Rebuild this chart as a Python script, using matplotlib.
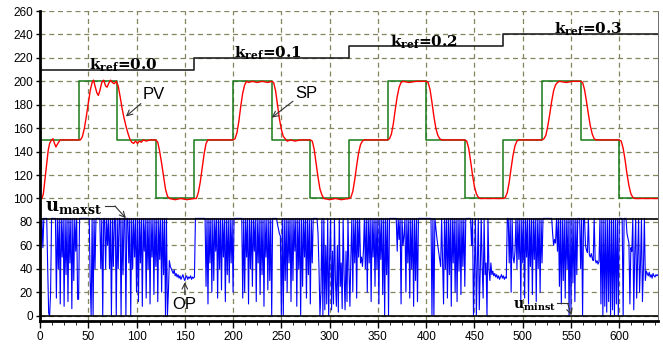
import matplotlib

matplotlib.use("Agg")

import matplotlib.pyplot as plt
import numpy as np

plt.rcParams["font.family"] = ["Liberation Sans", "DejaVu Sans"]
plt.rcParams["mathtext.fontset"] = "dejavuserif"

# set point: square wave 150 / 200 / 150 / 100, period 160
sp_t = [0, 1, 40, 80, 120, 160, 200, 240, 280, 320, 360, 400, 440, 480, 520, 560, 600, 640]
sp_v = [125, 150, 200, 150, 100, 150, 200, 150, 100, 150, 200, 150, 100, 150, 200, 150, 100, 100]

# k_ref reference level line
kref_t = [0, 160, 320, 480, 640]
kref_v = [210, 220, 230, 240, 240]
kref_labels = ["0.0", "0.1", "0.2", "0.3"]
kref_label_x = [51, 201, 363, 532]
kref_label_y = [214, 224, 233, 244]

# process value
pv_t = [0, 2, 3.5, 5, 7, 8.5, 10, 12, 13.5, 15, 16.5, 18.5, 21, 40,
        42, 44, 46, 48, 50, 52, 54, 55.5, 57, 59, 60.5, 62, 64, 66, 68, 69.5, 71, 73, 75, 77, 79,
        81, 83, 85, 87, 89, 91, 93, 95, 97, 99, 101, 103, 105, 107, 110, 114, 120,
        122, 124, 126, 128, 130, 132, 134, 140, 146, 152, 160,
        162, 164, 166, 168, 170, 172, 174, 200,
        202, 204, 206, 208, 210, 212, 214, 216, 220, 225, 230, 236, 240,
        242, 244, 246, 248, 250, 252, 254, 256, 260, 264, 270, 280,
        282, 284, 286, 288, 290, 292, 294, 300, 306, 312, 320,
        322, 324, 326, 328, 330, 332, 334, 336, 360,
        362, 364, 366, 368, 370, 372, 374, 376, 382, 390, 400,
        402, 404, 406, 408, 410, 412, 414, 416, 425, 440,
        442, 444, 446, 448, 450, 452, 454, 456, 468, 480,
        482, 484, 486, 488, 490, 492, 494, 496, 520,
        522, 524, 526, 528, 530, 532, 534, 536, 538, 545, 552, 560,
        562, 564, 566, 568, 570, 572, 574, 576, 590, 600,
        602, 604, 606, 608, 610, 612, 614, 616, 628, 640]
pv_v = [100, 100, 104, 115, 130, 141, 147, 150, 151, 147, 144, 147, 150, 150,
        150, 153, 160, 170, 181, 192, 199, 201, 196, 190, 188, 192, 199, 201, 196, 195, 198, 201, 199, 198, 200,
        196, 187, 177, 169, 162, 156, 151, 148, 147, 149, 147, 149, 148, 150, 149, 150, 150,
        148, 140, 130, 119, 108, 102, 100, 99, 100, 99, 100,
        100, 105, 114, 126, 138, 147, 150, 150,
        151, 156, 166, 179, 190, 197, 200, 199, 200, 199, 200, 199, 200,
        199, 192, 180, 168, 159, 153, 151, 149, 150, 149, 150, 150,
        149, 142, 130, 118, 108, 103, 100, 99, 100, 99, 100,
        101, 106, 116, 128, 139, 146, 149, 150, 150,
        151, 155, 164, 176, 187, 195, 199, 200, 199, 200, 200,
        199, 193, 182, 170, 160, 154, 151, 150, 150, 150,
        149, 143, 132, 120, 110, 104, 101, 100, 100, 100,
        101, 105, 114, 126, 137, 145, 149, 150, 150,
        151, 154, 162, 172, 183, 192, 197, 199, 200, 199, 200, 200,
        199, 193, 183, 172, 162, 155, 151, 150, 150, 150,
        149, 143, 133, 121, 111, 104, 101, 100, 100, 100]

# controller output, one sample per time unit
op_v = [83, 60, 83, 58, 83, 83, 83, 83,
        40, 2, 0, 20,
        83, 83, 83, 83,
        83, 15, 83, 40, 83, 10, 83, 50, 83, 8, 83, 35, 83, 12, 83, 45, 83, 6, 83, 30, 83, 55, 83, 14,
        14, 83, 83, 83, 83, 83, 83, 83, 83, 83, 83,
        83, 30, 0, 83, 0, 83, 40,
        83, 83, 83, 83, 83,
        40, 83, 0, 83, 83, 40, 83, 60,
        83, 40, 83, 0, 83, 42, 83, 83, 0,
        83, 40, 83, 83, 0, 83, 35, 83, 83, 0, 83, 83, 45, 83, 0, 83,
        40, 83, 50, 83, 20,
        83, 12, 83, 45, 83, 8, 83, 55, 83, 15, 83, 40, 83, 10, 83, 50, 83, 18, 83, 42, 83, 12, 83, 48,
        83, 20, 83, 35, 83, 0, 83,
        0, 20, 47, 42, 40,
        38, 36, 39, 34, 36, 33, 35, 32, 34, 31, 33, 35, 32, 30, 33, 34, 31, 33, 32, 34, 31, 33, 32,
        33, 83, 83, 83, 83, 83, 83, 83, 83, 83, 83,
        83, 25, 83, 10, 83, 45, 83, 20, 83, 30, 83, 55, 83, 15, 83, 40, 83, 22, 83, 50, 83, 12, 83, 35,
        83, 28, 83, 45, 83, 20,
        83, 83, 83, 83, 83, 83, 83, 83, 83,
        15,
        83, 20, 83, 50, 83, 10, 83, 40, 83, 25, 83, 55, 83, 12, 83, 45, 83, 18, 83, 35, 83, 8, 83, 50,
        83, 22, 83, 30, 83, 0, 83,
        83, 83, 83, 83,
        78, 74, 70, 68,
        0, 83, 0, 83, 30,
        83, 20, 83, 45, 83, 12, 83, 30, 83, 55, 83, 8, 83, 40, 83, 0, 83, 25, 83, 50, 83, 15, 83, 35,
        83, 10, 83, 45,
        83, 83, 83, 83, 83,
        70, 40, 0, 20,
        83, 0, 83, 5, 60, 10, 83, 0, 50,
        83, 5, 55, 10, 83, 30, 8, 60, 3, 83, 25, 45, 6, 83, 35, 5, 55, 12, 83, 40, 8, 50, 83,
        20, 83, 45, 83, 15, 83, 50, 83,
        45, 50, 42, 55, 83, 40, 83, 20, 83, 45, 83, 12, 83, 50, 83, 25, 83, 40, 83, 10, 83, 48, 83, 18,
        83, 0, 83, 35,
        83, 0, 83, 83, 83, 83, 83, 83, 83, 83,
        55, 83, 65, 83, 10, 83, 60, 68, 83, 20, 83, 45, 83, 15, 83, 40, 83, 8, 83, 30, 83, 12, 83,
        83, 83, 83, 83, 83, 83, 83, 83, 83, 83, 83, 83, 83,
        0, 83, 0, 83, 75, 67, 60, 54, 48,
        42, 83, 45, 10, 83, 40, 83, 15, 83, 35, 83, 8, 83, 45, 83, 20, 83, 12, 83, 38, 83, 18, 83, 42,
        83, 25,
        83, 83, 83, 83, 83, 83, 60, 83,
        0, 40, 83, 0, 45, 83, 5, 38, 83, 42, 15, 83, 35, 45, 0, 83, 40, 30, 45, 35, 38,
        34, 36, 33, 35, 32, 34, 31, 33, 35, 32, 34, 31, 33, 32,
        83, 83, 45,
        83, 20, 83, 50, 45, 55, 83, 40, 83, 48,
        83, 12, 83, 45, 83, 15, 83, 50, 83, 10, 83, 42, 83, 18, 83, 48, 83, 12, 83, 40, 83, 20, 83, 45,
        83,
        83, 83, 83, 83, 83, 83, 83, 83, 83,
        70, 60, 65, 62, 83, 55,
        83, 25, 83, 10, 83, 30, 83, 15, 83, 40, 83, 0, 83, 5, 83, 28, 83, 12, 83, 35, 83,
        83, 83, 40, 83, 0, 83, 83, 60,
        56, 54, 83, 52, 50, 53, 49, 47, 83, 48, 45, 47, 44, 46,
        83, 10, 83, 0, 83, 8, 83, 3, 83, 12, 83, 0, 83, 5, 83, 0, 83, 10, 83, 0, 83,
        83, 83, 83, 0, 83, 83, 83,
        70, 66, 62, 10, 58, 55, 83, 5, 52, 83, 15, 48, 83, 20,
        45, 83, 12, 40, 83, 30,
        38, 36, 34, 37, 33, 35, 32, 36, 34, 33, 35, 34, 35]
op_t = np.arange(len(op_v))

u_maxst = 82.5
u_minst = -0.7

grid_col = "#85855f"

fig = plt.figure(figsize=(6.63, 3.44), dpi=100)
ax = fig.add_axes([0.0603, 0.067, 0.932, 0.901])

ax.set_xlim(0, 640)
ax.set_ylim(-4.5, 260)
ax.set_xticks(np.arange(0, 601, 50))
ax.set_xticks(np.arange(0, 640, 12.5), minor=True)
ax.set_yticks(np.arange(0, 261, 20))
ax.grid(True, which="major", color=grid_col, linestyle=(0, (4, 3)), linewidth=0.9)
ax.set_axisbelow(True)

ax.spines["top"].set_visible(False)
ax.spines["right"].set_linewidth(0.6)
ax.spines["right"].set_color("#555555")
ax.spines["left"].set_linewidth(2)
ax.spines["bottom"].set_linewidth(2)
ax.tick_params(axis="both", labelsize=8.5, direction="out", width=1)
ax.tick_params(axis="x", which="major", length=5, pad=2)
ax.tick_params(axis="x", which="minor", length=3)
ax.tick_params(axis="y", length=3, pad=2)
ax.tick_params(axis="y", which="minor", left=False)

# controller output and its limits
ax.plot(op_t, op_v, color="#0000ff", linewidth=0.8)
ax.axhline(u_maxst, color="black", linewidth=1.2)
ax.axhline(u_minst, color="black", linewidth=1.2)

# set point and process value
ax.plot(sp_t, sp_v, color="#1a7a1a", linewidth=1.1, drawstyle="steps-post")
ax.plot(pv_t, pv_v, color="#ff0000", linewidth=1.0)

# k_ref line and labels
ax.plot(kref_t, kref_v, color="#222222", linewidth=1.2, drawstyle="steps-post")
for lab, lx, ly in zip(kref_labels, kref_label_x, kref_label_y):
    ax.text(lx, ly, r"$\mathbf{k_{ref}}$=" + lab, family="DejaVu Serif",
            weight="bold", fontsize=11, ha="left", va="center")

arrow = dict(arrowstyle="->", color="#333333", linewidth=0.8, shrinkA=0, shrinkB=0)

ax.text(106, 188.5, "PV", fontsize=12, ha="left", va="center")
ax.annotate("", xy=(89, 170), xytext=(104.5, 181), arrowprops=arrow)
ax.text(264, 190, "SP", fontsize=12, ha="left", va="center")
ax.annotate("", xy=(240, 169), xytext=(262, 183), arrowprops=arrow)
ax.text(149, 9.5, "OP", fontsize=12, ha="center", va="center")
ax.annotate("", xy=(150, 28.5), xytext=(150, 18), arrowprops=arrow)

ax.text(5, 92, r"$\mathbf{u_{maxst}}$", fontsize=13, ha="left", va="center")
ax.plot([67, 77.6], [93.6, 93.6], color="#333333", linewidth=0.8)
ax.annotate("", xy=(89, 83.2), xytext=(77.6, 93.6), arrowprops=arrow)
ax.text(490, 8.5, r"$\mathbf{u_{minst}}$", fontsize=10, ha="left", va="center")
ax.plot([535, 546.6], [10.5, 10.5], color="#333333", linewidth=0.8)
ax.annotate("", xy=(550.4, 0.3), xytext=(546.6, 10.5), arrowprops=arrow)

fig.savefig("out.png", dpi=100)
